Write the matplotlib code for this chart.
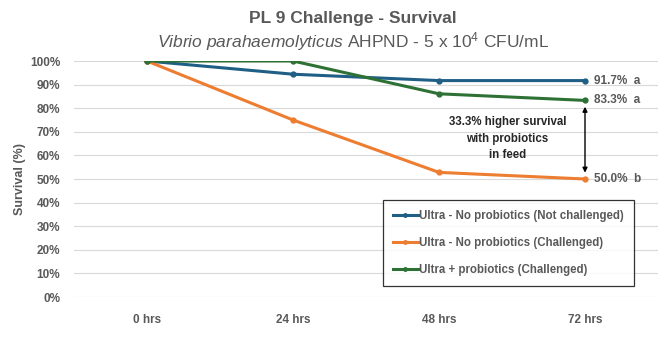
import numpy as np
import matplotlib.pyplot as plt
from matplotlib.lines import Line2D

plt.rcParams['font.family'] = ['Liberation Sans', 'DejaVu Sans']
plt.rcParams['mathtext.fontset'] = 'custom'
plt.rcParams['mathtext.rm'] = 'Liberation Sans'
plt.rcParams['mathtext.it'] = 'Liberation Sans:italic'

# Data
timepoints = ["0 hrs", "24 hrs", "48 hrs", "72 hrs"]
not_challenged = [100, 94.4, 91.7, 91.7]
no_probiotics = [100, 75.0, 52.8, 50.0]
with_probiotics = [100, 100, 86.1, 83.3]
series_names = ["Ultra - No probiotics (Not challenged)",
                "Ultra - No probiotics (Challenged)",
                "Ultra + probiotics (Challenged)"]
end_labels = ["91.7%  a", "50.0%  b", "83.3%  a"]
colors = ["#1F5F86", "#ED7D31", "#2E7134"]
gray = "#595959"

fig = plt.figure(figsize=(6.69, 3.38), dpi=100)
ax = fig.add_axes([74/669, 1 - 297/338, 584/669, 236/338])

x = np.arange(len(timepoints))
all_series = [not_challenged, no_probiotics, with_probiotics]
for vals, c in zip(all_series, colors):
    ax.plot(x, vals, color=c, lw=2.2, marker='o', ms=3.5, zorder=3)

ax.set_xlim(-0.5, 3.5)
ax.set_ylim(0, 100)
ax.set_yticks(np.arange(0, 101, 10))
ax.set_yticklabels([f"{v}%" for v in range(0, 101, 10)])
ax.set_xticks(x)
ax.set_xticklabels(timepoints)
ax.grid(axis='y', color='#D9D9D9', lw=0.8)
ax.set_axisbelow(True)
for s in ax.spines.values():
    s.set_visible(False)
ax.tick_params(length=0, colors=gray, labelsize=8.5)
for lbl in ax.get_xticklabels() + ax.get_yticklabels():
    lbl.set_fontweight('bold')
ax.tick_params(axis='x', pad=12)
ax.tick_params(axis='y', pad=10)
ax.set_ylabel("Survival (%)", color=gray, fontsize=9, fontweight='bold')
ax.yaxis.set_label_coords(-48/584, 0.5)

# end labels
for vals, lab in zip(all_series, end_labels):
    ax.text(3.06, vals[-1], lab, color=gray, fontsize=8.5, fontweight='bold', va='center')

# arrow between probiotics and no probiotics
ax.annotate("", xy=(3, with_probiotics[-1] - 1.5), xytext=(3, no_probiotics[-1] + 1.5),
            arrowprops=dict(arrowstyle='<|-|>', color='black', lw=1, mutation_scale=7))
ax.text(2.47, 67, "33.3% higher survival\nwith probiotics\nin feed", ha='center', va='center',
        fontsize=8.3, fontweight='bold', color='#262626', linespacing=1.5)

handles = [Line2D([0], [0], color=c, lw=2.2, marker='o', ms=2.5) for c in colors]
leg = ax.legend(handles, series_names, loc='upper left', bbox_to_anchor=(309/584, 1 - 139/236),
                frameon=True, fancybox=False, fontsize=8.3, labelspacing=1.3, handlelength=2.2,
                handletextpad=0.1, borderpad=0.85, borderaxespad=0)
leg.get_frame().set_edgecolor('black')
leg.get_frame().set_linewidth(0.9)
for t in leg.get_texts():
    t.set_color(gray)
    t.set_fontweight('bold')

fig.text(353/669, 1 - 18/338, "PL 9 Challenge - Survival", ha='center', va='center',
         fontsize=12.5, fontweight='bold', color=gray)
fig.text(353/669, 1 - 42/338, r"$\it{Vibrio\ parahaemolyticus}$ AHPND - 5 x 10$^{4}$ CFU/mL",
         ha='center', va='center', fontsize=12.5, color=gray)

fig.savefig("out.png", dpi=100)
